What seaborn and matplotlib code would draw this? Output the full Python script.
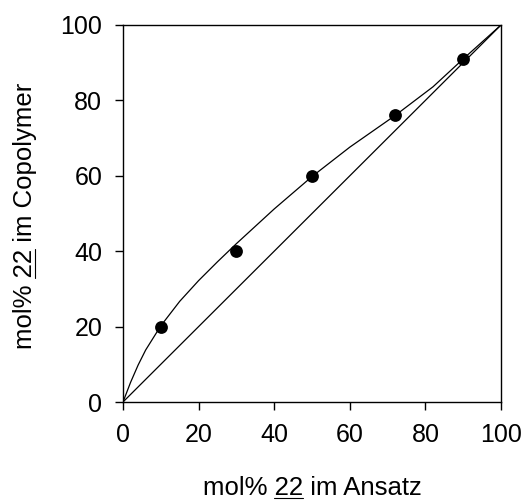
import matplotlib
matplotlib.use("Agg")
import matplotlib.pyplot as plt
from matplotlib.lines import Line2D
from matplotlib.font_manager import FontProperties
import seaborn as sns
import pandas as pd

# Measured copolymer composition: feed vs. incorporated monomer 22 (mol%)
feed = [10, 30, 50, 72, 90]
copolymer = [20, 40, 60, 76, 91]

# Fitted composition curve
curve_x = [0, 2, 4, 6, 10, 15, 20, 25, 30, 40, 50, 60, 72, 82, 90, 100]
curve_y = [0, 5.2, 9.8, 13.8, 20.2, 26.7, 32.2, 37.2, 42.0, 51.2, 59.8, 67.6, 76.0, 83.6, 91.0, 100]

# Azeotropic reference line
diag_x = [0, 100]
diag_y = [0, 100]

xticks = [0, 20, 40, 60, 80, 100]
yticks = [0, 20, 40, 60, 80, 100]

xlabel_pre, xlabel_num, xlabel_post = "mol% ", "22", " im Ansatz"
ylabel_pre, ylabel_num, ylabel_post = "mol% ", "22", " im Copolymer"

sns.set_style("ticks")
FAMILY = ["Liberation Sans", "DejaVu Sans"]
plt.rcParams["font.family"] = FAMILY

W_PX, H_PX = 526, 501
fig = plt.figure(figsize=(W_PX / 100, H_PX / 100), dpi=100)
ax = fig.add_axes([123 / W_PX, 1 - 402 / H_PX, 378 / W_PX, 377 / H_PX])

pts = pd.DataFrame({"x": feed, "y": copolymer})
crv = pd.DataFrame({"x": curve_x, "y": curve_y})
dg = pd.DataFrame({"x": diag_x, "y": diag_y})

sns.lineplot(data=dg, x="x", y="y", ax=ax, color="black", lw=0.9, sort=False)
sns.lineplot(data=crv, x="x", y="y", ax=ax, color="black", lw=0.9, sort=False)
sns.scatterplot(data=pts, x="x", y="y", ax=ax, color="black", s=85,
                edgecolor="black", linewidth=0, zorder=3)

ax.set_xlim(0, 100)
ax.set_ylim(0, 100)
ax.set_xticks(xticks)
ax.set_yticks(yticks)
ax.tick_params(direction="out", length=6, width=1, labelsize=18, color="black",
               labelcolor="black")
ax.tick_params(axis="x", pad=9)
ax.tick_params(axis="y", pad=9)
for sp in ax.spines.values():
    sp.set_visible(True)
    sp.set_color("black")
    sp.set_linewidth(1)
ax.set_xlabel("")
ax.set_ylabel("")

# Axis titles with the compound number underlined
LABEL_SIZE = 18.5
prop = FontProperties(family=FAMILY, size=LABEL_SIZE)
renderer = fig.canvas.get_renderer()


def text_width(s):
    return renderer.get_text_width_height_descent(s, prop, ismath=False)[0]


def underline_span(pre, num, post, center):
    full = pre + num + post
    start = center - text_width(full) / 2
    end_num = start + text_width((pre + num).rstrip())
    return end_num - text_width(num), end_num


# x title: centred under the axes, baseline in pixels from the bottom
x_cx, x_base = 312, 501 - 495
fig.text(x_cx / W_PX, x_base / H_PX, xlabel_pre + xlabel_num + xlabel_post,
         ha="center", va="baseline", fontproperties=prop, color="black")
u0, u1 = underline_span(xlabel_pre, xlabel_num, xlabel_post, x_cx)
fig.add_artist(Line2D([u0 / W_PX, u1 / W_PX],
                      [(x_base - 2.5) / H_PX] * 2,
                      transform=fig.transFigure, color="black", lw=0.8))

# y title: rotated, reading upwards, baseline on the right
y_cy, y_base = 501 - 216, 32
fig.text(y_base / W_PX, y_cy / H_PX, ylabel_pre + ylabel_num + ylabel_post,
         ha="center", va="baseline", rotation=90, rotation_mode="anchor",
         fontproperties=prop, color="black")
v0, v1 = underline_span(ylabel_pre, ylabel_num, ylabel_post, y_cy)
fig.add_artist(Line2D([(y_base + 2.5) / W_PX] * 2,
                      [v0 / H_PX, v1 / H_PX],
                      transform=fig.transFigure, color="black", lw=0.8))

fig.savefig("out.png", dpi=100)
